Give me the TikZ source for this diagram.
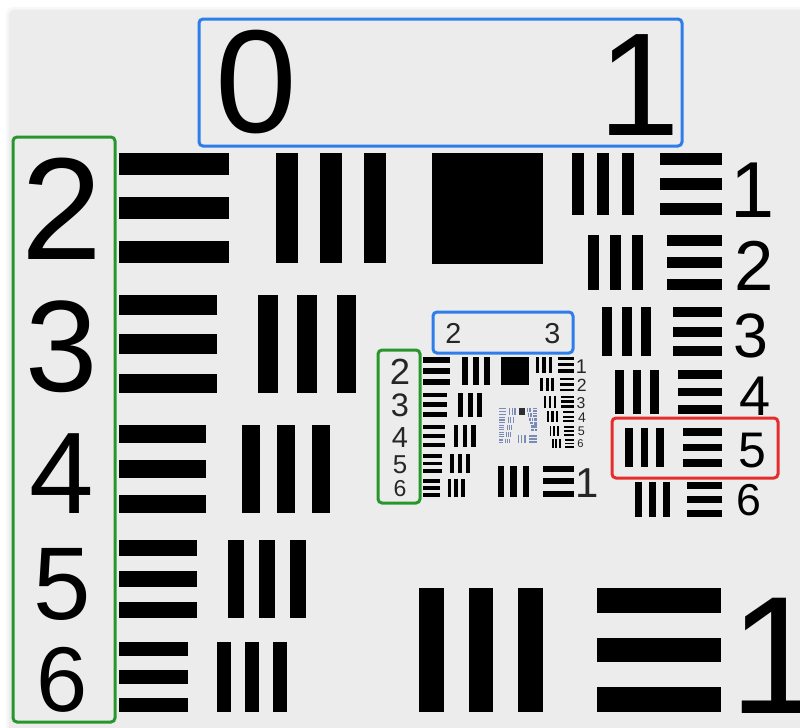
\documentclass[tikz,border=0pt]{standalone}
\usepackage{fontspec}
\setmainfont{Liberation Sans}
\usepackage{tikz}

\definecolor{panel}{RGB}{236,236,236}
\definecolor{boxblue}{RGB}{45,125,235}
\definecolor{boxgreen}{RGB}{40,150,45}
\definecolor{boxred}{RGB}{230,45,45}
\definecolor{tinyblue}{RGB}{95,115,170}

\tikzset{
  num/.style={anchor=base,inner sep=0pt,font=\fontsize{#1}{#1}\selectfont},
  markbox/.style={line width=2.25pt,rounded corners=3pt}
}

% one element: width, left of vertical bars, left of horizontal bars, top
\newcommand{\usarelem}[4]{%
  \foreach \i in {0,1,2}{
    \fill ({#2+2*\i*#1},#4) rectangle ++(#1,{5*#1});
    \fill (#3,{#4+2*\i*#1}) rectangle ++({5*#1},#1);
  }}

% all bars of two groups
\newcommand{\usargroups}{%
  \usarelem{22.09}{276}{118.5}{153}
  \usarelem{19.68}{258}{118.5}{295}
  \usarelem{17.53}{242}{118.5}{425}
  \usarelem{15.62}{228}{118.5}{540}
  \usarelem{13.92}{217}{118.5}{642}
  \usarelem{12.40}{572}{660}{153}
  \usarelem{11.05}{588}{666.75}{235}
  \usarelem{9.84}{602}{672.8}{307}
  \usarelem{8.77}{615}{678.15}{370}
  \usarelem{7.81}{625}{682.95}{428}
  \usarelem{6.96}{635}{687.2}{482}
  \usarelem{24.8}{419}{597}{588}
  \fill[black] (432,153) rectangle ++(110.5,110.5);
}

\begin{document}
\begin{tikzpicture}[x=0.75pt,y=-0.75pt]
\useasboundingbox (0,0) rectangle (800,728);

% Background
\fill[white] (0,0) rectangle (800,728);
\fill[black!3,rounded corners=6pt] (6,7) rectangle (820,750);
\fill[black!7,rounded corners=5pt] (8.5,9.5) rectangle (820,750);
\fill[panel,rounded corners=4pt] (10,11) rectangle (820,750);

% Bars
\usargroups
\begin{scope}[shift={(393.25,318.75)},scale=0.25]
  \usargroups
\end{scope}
\begin{scope}[shift={(491.56,398.44)},scale=0.0625,color=tinyblue,opacity=0.8]
  \usargroups
\end{scope}

% Labels
\node[num=110] (lab0) at (256,132) {0};
\node[num=110] (lab1) at (639.5,135) {1};
\node[num=109] (g0e2) at (62,259) {2};
\node[num=97.5] (g0e3) at (62,391) {3};
\node[num=87] (g0e4) at (62,513) {4};
\node[num=77.5] (g0e5) at (62,619) {5};
\node[num=69] (g0e6) at (62,711) {6};
\node[num=59.5] (g1e1) at (752.5,217) {1};
\node[num=53] (g1e2) at (754.5,290) {2};
\node[num=47] (g1e3) at (751,357) {3};
\node[num=42] (g1e4) at (755,415) {4};
\node[num=37.5] (g1e5) at (752.5,467) {5};
\node[num=33.5] (g1e6) at (749,515) {6};
\node[num=125.7] (g0e1) at (776.3,713) {1};

% Small labels
\begin{scope}[black!85]
\node[num=21.6] (lab2) at (453.5,343) {2};
\node[num=21.6] (lab3) at (552.5,343) {3};
\node[num=27.3] (g2e2) at (400,384) {2};
\node[num=24.4] (g2e3) at (400,416.5) {3};
\node[num=21.75] (g2e4) at (400,447) {4};
\node[num=19.4] (g2e5) at (400,473.5) {5};
\node[num=17.25] (g2e6) at (400,496.5) {6};
\node[num=14.9] (g3e1) at (581.4,373) {1};
\node[num=13.25] (g3e2) at (581.9,391.25) {2};
\node[num=11.8] (g3e3) at (581,408) {3};
\node[num=10.5] (g3e4) at (582,422.5) {4};
\node[num=9.4] (g3e5) at (581.4,435.5) {5};
\node[num=8.4] (g3e6) at (580.5,447.5) {6};
\node[num=31.4] (g2e1) at (587.5,497) {1};
\end{scope}

% Boxes
\draw[markbox,boxblue] (199,19) rectangle (682,146);
\draw[markbox,boxgreen] (13,137) rectangle (115,722);
\draw[markbox,boxblue] (433,312) rectangle (573,353);
\draw[markbox,boxgreen] (378,350) rectangle (420,503);
\draw[markbox,boxred] (612,418) rectangle (778,478);
\end{tikzpicture}
\end{document}
